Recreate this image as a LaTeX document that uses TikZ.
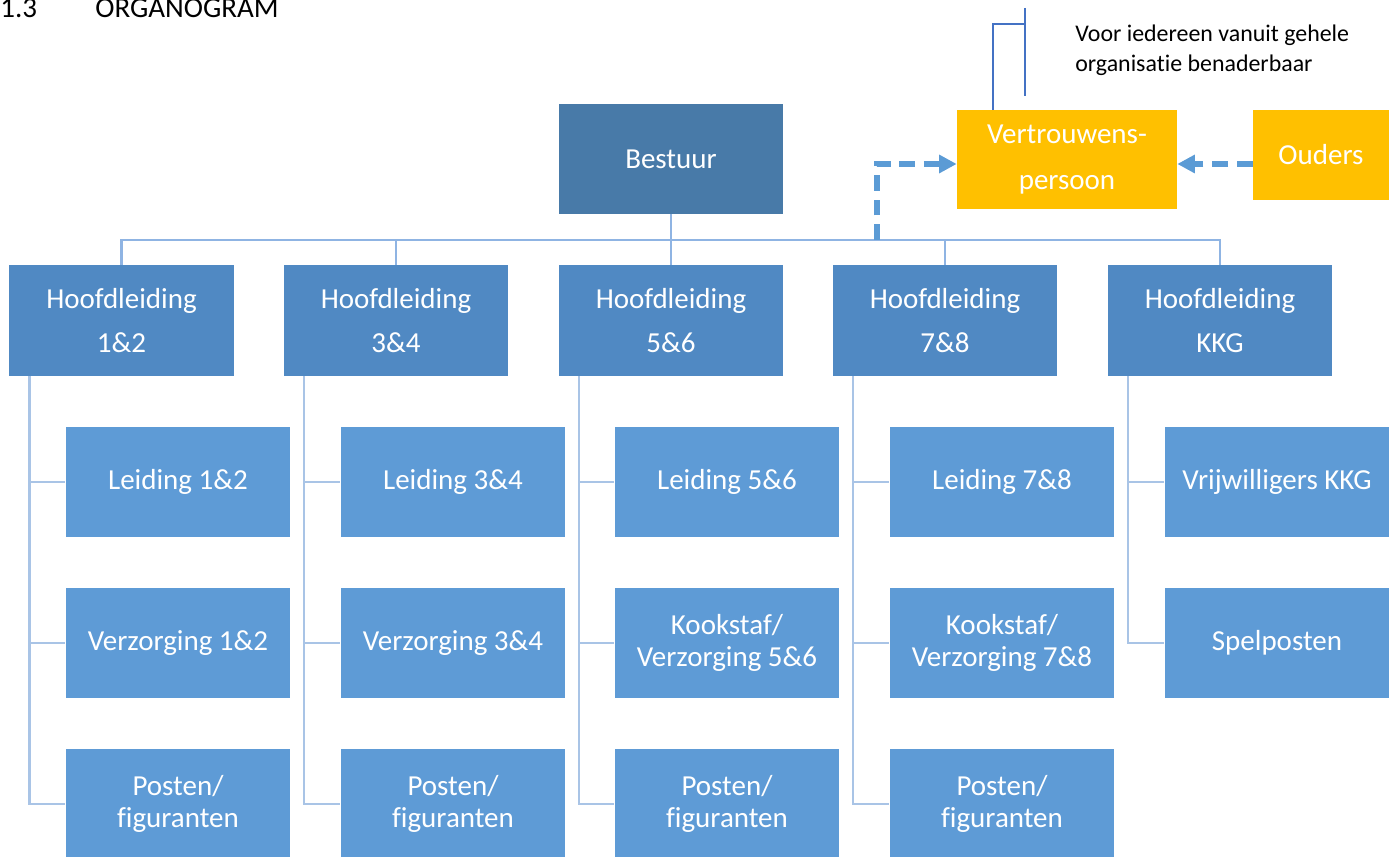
\documentclass[tikz,border=0pt]{standalone}
\usepackage{fontspec}
\setmainfont{Carlito}[Ligatures=NoCommon]
\usepackage{tikz}
\usetikzlibrary{arrows.meta,calc,positioning}
\definecolor{bestblue}{HTML}{487AA8}
\definecolor{hoofdblue}{HTML}{5089C3}
\definecolor{subblue}{HTML}{5E9BD6}
\definecolor{vporange}{HTML}{FFC000}
\definecolor{busline}{HTML}{8FB4E3}
\definecolor{subline}{HTML}{A9C4E6}
\definecolor{dashblue}{HTML}{5B9BD5}
\definecolor{brkblue}{HTML}{4472C4}
\tikzset{
  box/.style={inner sep=0pt, text=white, align=center, minimum width=4.5cm, minimum height=2.2cm,
    font=\fontsize{16.5}{18}\selectfont},
  best/.style={box, fill=bestblue},
  hoofd/.style={box, fill=hoofdblue, minimum height=2.22cm, font=\fontsize{16.5}{25.5}\selectfont},
  sub/.style={box, fill=subblue},
  vpbox/.style={box, fill=vporange, minimum width=4.4cm, minimum height=1.98cm, font=\fontsize{16.5}{26}\selectfont},
  bus/.style={draw=busline, line width=1.4pt},
  subl/.style={draw=subline, line width=1.4pt},
  vpline/.style={draw=dashblue, line width=3.2pt, dash pattern=on 9pt off 5pt,
    -{Triangle[length=10pt,width=10pt]}},
  brkline/.style={draw=brkblue, line width=1.1pt},
}

\begin{document}
\begin{tikzpicture}[x=0.02cm, y=-0.02cm]
\useasboundingbox (0,0) rectangle (1394,857);
\node[anchor=base west, inner sep=0pt, font=\fontsize{16.5}{18}\selectfont] (nr) at (0,18) {1.3};
\node[anchor=base west, inner sep=0pt, font=\fontsize{16.5}{18}\selectfont] (title) at (95,18) {ORGANOGRAM};
% top
\node[best] (best) at (671,159) {Bestuur};
\node[vpbox] (vp) at (1067,159.5) {Vertrouwens-\\persoon};
\node[vpbox, minimum width=2.72cm, minimum height=1.8cm] (ou) at (1321,155) {Ouders};
\node[anchor=north west, inner sep=0pt, align=left, text=black,
  font=\fontsize{13.6}{17}\selectfont] (note) at (1075,25) {Voor iedereen vanuit gehele\\organisatie benaderbaar};
% hoofdleiding
\node[hoofd] (h12) at (121.5,320.5) {Hoofdleiding\\1\&2};
\node[hoofd] (h34) at (396,320.5) {Hoofdleiding\\3\&4};
\node[hoofd] (h56) at (671,320.5) {Hoofdleiding\\5\&6};
\node[hoofd] (h78) at (945,320.5) {Hoofdleiding\\7\&8};
\node[hoofd] (hkkg) at (1220,320.5) {Hoofdleiding\\KKG};
% 1&2
\node[sub] (l12) at (178,482) {Leiding 1\&2};
\node[sub] (v12) at (178,643) {Verzorging 1\&2};
\node[sub] (p12) at (178,804) {Posten/\\figuranten};
% 3&4
\node[sub] (l34) at (453,482) {Leiding 3\&4};
\node[sub] (v34) at (453,643) {Verzorging 3\&4};
\node[sub] (p34) at (453,804) {Posten/\\figuranten};
% 5&6
\node[sub] (l56) at (727,482) {Leiding 5\&6};
\node[sub] (v56) at (727,643) {Kookstaf/\\Verzorging 5\&6};
\node[sub] (p56) at (727,804) {Posten/\\figuranten};
% 7&8
\node[sub] (l78) at (1002,482) {Leiding 7\&8};
\node[sub] (v78) at (1002,643) {Kookstaf/\\Verzorging 7\&8};
\node[sub] (p78) at (1002,804) {Posten/\\figuranten};
% kkg
\node[sub] (lkkg) at (1277,482) {Vrijwilligers KKG};
\node[sub] (vkkg) at (1277,643) {Spelposten};
% bus
\coordinate (busmid) at (671,240);
\coordinate (busv) at (877,240);
\draw[bus] (best) -- (busmid);
\draw[bus] (busmid) -| (h12.north);
\draw[bus] (busmid) -| (h34.north);
\draw[bus] (busmid) -- (h56.north);
\draw[bus] (busmid) -| (h78.north);
\draw[bus] (busmid) -| (hkkg.north);
% sub lines
\draw[subl] ([xshift=0.42cm]h12.south west) |- (l12.west);
\draw[subl] ([xshift=0.42cm]h12.south west) |- (v12.west);
\draw[subl] ([xshift=0.42cm]h12.south west) |- (p12.west);
\draw[subl] ([xshift=0.42cm]h34.south west) |- (l34.west);
\draw[subl] ([xshift=0.42cm]h34.south west) |- (v34.west);
\draw[subl] ([xshift=0.42cm]h34.south west) |- (p34.west);
\draw[subl] ([xshift=0.42cm]h56.south west) |- (l56.west);
\draw[subl] ([xshift=0.42cm]h56.south west) |- (v56.west);
\draw[subl] ([xshift=0.42cm]h56.south west) |- (p56.west);
\draw[subl] ([xshift=0.42cm]h78.south west) |- (l78.west);
\draw[subl] ([xshift=0.42cm]h78.south west) |- (v78.west);
\draw[subl] ([xshift=0.42cm]h78.south west) |- (p78.west);
\draw[subl] ([xshift=0.42cm]hkkg.south west) |- (lkkg.west);
\draw[subl] ([xshift=0.42cm]hkkg.south west) |- (vkkg.west);
% vertrouwenspersoon
\coordinate (vpw) at ([yshift=-0.09cm]vp.west);
\coordinate (vpe) at ([yshift=-0.09cm]vp.east);
\draw[vpline] (busv) |- (vpw);
\draw[vpline] (ou.west |- vpe) -- (vpe);
\coordinate (brk1) at (1025,8);
\coordinate (brk2) at (1025,96);
\coordinate (brk3) at (1025,24);
\draw[brkline] (brk1) -- (brk2);
\draw[brkline] ([xshift=0.72cm]vp.north west) |- (brk3);
\end{tikzpicture}
\end{document}
